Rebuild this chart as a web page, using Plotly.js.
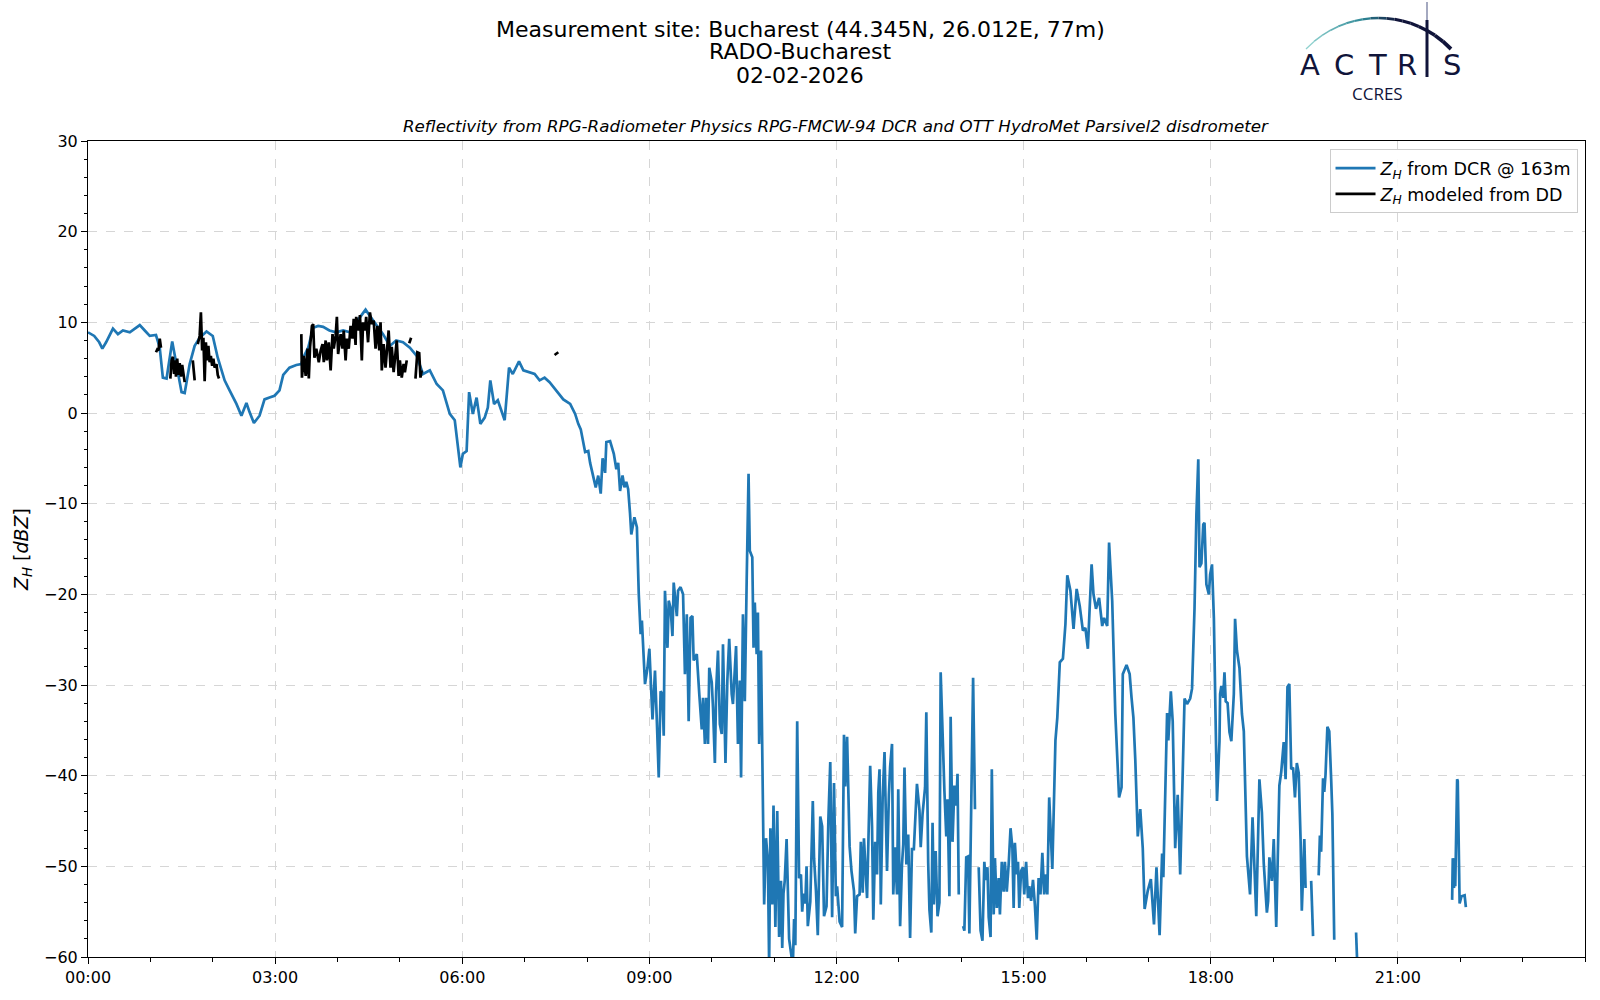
<!DOCTYPE html>
<html>
<head>
<meta charset="utf-8">
<script src="https://cdn.plot.ly/plotly-3.0.1.min.js"></script>
<style>html,body{margin:0;padding:0;background:#fff;}#chart{width:1600px;height:1000px;}</style>
</head>
<body>
<div id="chart"></div>
<script>
// ---- DATA: time in decimal hours (UTC), reflectivity in dBZ ----
const dcrHours = [
0.00,0.10,0.18,0.23,0.29,0.40,0.48,0.56,0.67,0.75,0.83,0.91,0.99,1.09,1.15,1.20,1.26,1.35,1.41,1.50,1.55,1.63,1.71,1.79,1.90,2.00,2.08,2.19,2.27,2.38,2.46,2.54,2.59,2.66,2.75,2.83,2.91,2.99,3.07,3.13,3.23,3.34,3.42,3.45,3.53,3.61,3.69,3.77,3.87,3.98,4.09,4.20,4.30,4.38,4.45,4.52,4.62,4.73,4.84,4.94,5.05,5.16,5.27,5.37,5.48,5.59,5.69,5.80,5.88,5.93,5.97,6.01,6.07,6.11,6.17,6.23,6.29,6.36,6.41,6.45,6.51,6.57,6.63,6.68,6.72,6.75,6.81,6.91,6.98,7.06,7.16,7.24,7.32,7.40,7.51,7.62,7.73,7.81,7.86,7.90,7.97,8.02,8.05,8.10,8.14,8.18,8.22,8.25,8.29,8.31,8.37,8.43,8.47,8.50,8.53,8.57,8.60,8.63,8.66,8.69,8.71,8.76,8.80,8.83,8.86,8.88,8.93,8.97,9.00,9.05,9.09,9.12,9.15,9.18,9.21,9.23,9.25,9.29,9.31,9.34,9.37,9.39,9.44,9.46,9.50,9.54,9.57,9.60,9.63,9.66,9.69,9.71,9.76,9.80,9.84,9.86,9.89,9.91,9.94,9.96,10.00,10.02,10.05,10.07,10.10,10.13,10.16,10.18,10.22,10.25,10.28,10.32,10.34,10.39,10.42,10.45,10.47,10.50,10.53,10.56,10.59,10.61,10.65,10.67,10.69,10.72,10.74,10.76,10.79,10.84,10.87,10.90,10.92,10.94,10.97,10.99,11.02,11.05,11.08,11.11,11.13,11.15,11.17,11.20,11.24,11.30,11.32,11.34,11.37,11.40,11.43,11.45,11.47,11.50,11.52,11.54,11.58,11.62,11.64,11.67,11.70,11.74,11.77,11.80,11.84,11.87,11.90,11.93,11.96,11.99,12.01,12.05,12.09,12.12,12.14,12.17,12.21,12.24,12.28,12.30,12.33,12.37,12.39,12.42,12.44,12.49,12.51,12.54,12.57,12.59,12.62,12.65,12.67,12.69,12.71,12.74,12.77,12.81,12.84,12.86,12.89,12.91,12.94,12.97,12.99,13.02,13.05,13.07,13.09,13.12,13.15,13.18,13.21,13.24,13.29,13.33,13.35,13.38,13.42,13.44,13.47,13.49,13.52,13.54,13.56,13.59,13.62,13.65,13.67,13.70,13.73,13.76,13.78,13.81,13.83,13.86,13.89,13.92,13.94,13.96,13.99,
14.03,14.05,14.08,14.11,14.13,14.15,14.19,14.22,14.25,
14.28,14.29,14.31,14.34,14.37,14.39,14.42,14.44,14.47,14.49,14.52,14.54,14.57,14.60,14.62,14.65,14.68,14.70,14.73,14.76,14.79,14.82,14.84,14.86,14.89,14.91,14.93,14.96,14.99,15.01,15.04,15.07,15.09,15.12,15.15,15.18,15.21,15.24,15.27,15.30,15.33,15.36,15.38,15.41,15.44,15.46,15.51,15.54,15.58,15.63,15.67,15.70,15.75,15.80,15.85,15.90,15.95,15.99,16.03,16.09,16.12,16.16,16.21,16.26,16.29,16.34,16.37,16.42,16.47,16.53,16.57,16.59,16.65,16.70,16.73,16.76,16.79,16.83,16.87,16.91,16.94,16.99,17.04,17.09,17.13,17.18,17.22,17.24,17.30,17.32,17.36,17.39,17.43,17.47,17.51,17.55,17.58,17.62,17.67,17.70,17.74,17.77,17.80,17.82,17.85,17.88,17.90,17.93,17.97,17.99,18.02,18.05,18.07,18.10,18.14,18.15,18.17,18.20,18.22,18.24,18.27,18.30,18.33,18.37,18.39,18.42,18.46,18.50,18.53,18.58,18.63,18.67,18.73,18.75,18.78,18.82,18.85,18.90,18.92,18.94,18.98,19.01,19.05,19.10,19.13,19.17,19.20,19.23,19.26,19.29,19.32,19.35,19.38,19.41,19.44,19.46,19.50,19.52,19.56,
19.61,19.64,19.68,
19.73,19.75,19.77,19.80,19.82,19.84,19.87,19.90,19.93,19.95,19.98,20.10,
20.33,20.35,21.00,
21.87,21.88,21.90,21.91,21.92,21.95,21.96,21.99,22.02,22.07,22.09
];
const dcrZh = [
8.9,8.5,7.8,7.1,7.8,9.3,8.7,9.1,8.9,9.3,9.7,9.1,8.5,8.6,7.2,3.9,3.8,7.9,5.6,2.3,2.2,5.4,7.4,8.3,9.0,8.5,6.1,3.6,2.5,1.0,-0.3,1.1,0.1,-1.1,-0.3,1.5,1.7,1.9,2.5,4.2,5.0,5.3,5.4,6.1,7.2,9.4,9.6,9.5,9.1,8.9,9.1,8.9,10.0,10.7,11.4,10.7,9.8,8.7,7.4,8.0,7.8,7.2,6.3,4.3,4.7,3.2,2.5,-0.1,-0.8,-3.8,-6.0,-4.5,-4.2,2.3,-0.1,1.7,-1.2,-0.5,0.6,3.6,1.0,1.4,0.1,-0.8,2.5,5.0,4.3,5.7,4.7,4.5,4.3,3.6,3.9,3.4,2.5,1.5,1.0,-0.1,-1.2,-1.8,-4.3,-4.2,-5.5,-7.1,-8.2,-6.9,-8.9,-5.0,-6.6,-3.2,-3.1,-4.5,-6.2,-5.5,-8.6,-6.9,-8.2,-7.6,-8.4,-11.1,-13.4,-11.5,-12.6,-20.0,-24.4,-22.9,-29.9,-28.1,-26.0,-33.8,-28.4,-34.0,-40.2,-30.7,-31.0,-35.6,-19.6,-25.9,-20.7,-21.5,-24.6,-18.7,-22.4,-19.6,-19.2,-20.0,-28.8,-22.2,-34.0,-22.6,-22.4,-27.3,-26.6,-31.0,-34.9,-31.4,-36.5,-31.4,-36.5,-28.1,-29.7,-32.5,-38.6,-30.7,-26.2,-34.3,-35.4,-25.5,-38.6,-29.5,-24.9,-31.0,-32.1,-25.7,-36.5,-29.5,-40.2,-22.2,-31.8,-18.5,-6.7,-15.2,-15.9,-25.9,-20.9,-26.6,-22.0,-36.5,-26.2,-54.2,-46.9,-49.4,-61,-45.8,-54.2,-43.3,-56.7,-43.9,-57.8,-51.6,-59,-53.0,-51.6,-47.0,-58,-61,-55.8,-58.7,-34.0,-51.3,-50.9,-55.0,-53.0,-54.1,-50.0,-56.6,-53.9,-42.8,-49.1,-52.6,-57.6,-44.5,-45.6,-55.5,-54.4,-44.8,-38.5,-55.6,-40.8,-53.3,-52.2,-56.1,-56.7,-35.5,-41.2,-35.7,-47.8,-50.5,-52.7,-57.4,-53.3,-53.1,-47.3,-52.9,-46.9,-53.5,-47.2,-38.9,-45.6,-55.9,-47.3,-50.9,-41.9,-39.3,-54.2,-42.4,-37.4,-50.5,-42.1,-39.0,-36.5,-53.1,-47.9,-53.1,-41.5,-56.6,-49.8,-47.6,-39.1,-49.8,-46.5,-57.9,-48.1,-48.1,-40.9,-43.8,-47.9,-44.2,-41.3,-33.0,-49.6,-54.8,-57.3,-45.2,-54.2,-48.3,-55.5,-54.0,-28.6,-36.0,-41.7,-46.7,-42.6,-53.3,-33.5,-47.3,-41.1,-43.3,-39.8,-53.1,null,
-56.6,-57.1,-49.0,-48.9,-57.4,-46.6,-29.2,-43.7,null,
-50.1,-54.0,-57.1,-58.2,-49.5,-51.5,-50.1,-55.6,-57.8,-39.3,-55.3,-49.1,-54.6,-51.3,-55.3,-49.5,-52.8,-49.5,-52.8,-49.8,-45.8,-48.0,-54.6,-47.4,-50.9,-49.5,-54.6,-50.5,-50.1,-53.1,-49.5,-53.5,-52.2,-53.8,-51.5,-54.2,-58.1,-51.3,-53.1,-48.5,-53.1,-50.9,-53.1,-42.4,-47.2,-50.3,-36.1,-33.6,-27.5,-27.1,-23.3,-17.9,-19.6,-23.8,-19.4,-21.3,-24.0,-23.7,-26.0,-16.7,-20.0,-21.6,-20.4,-23.5,-22.6,-23.5,-14.3,-20.7,-33.2,-42.4,-41.3,-28.8,-27.8,-28.8,-31.4,-33.6,-38.2,-46.7,-43.7,-48.0,-54.7,-52.7,-51.4,-56.4,-50.1,-57.6,-48.6,-51.2,-33.1,-36.1,-30.7,-34.0,-48.0,-42.1,-50.9,-39.8,-31.5,-32.1,-31.5,-30.4,-21.5,-11.2,-5.1,-17.0,-16.6,-12.3,-12.1,-18.9,-20.0,-17.8,-16.7,-22.6,-32.5,-42.8,-36.2,-31.0,-30.1,-31.4,-28.6,-31.8,-32.0,-35.2,-36.2,-31.0,-22.7,-26.2,-28.1,-33.2,-35.1,-48.9,-53.1,-44.6,-55.5,-50.0,-40.4,-44.1,-49.7,-55.1,-53.8,-49.0,-51.6,-47.0,-56.7,-41.1,-39.6,-36.3,-40.4,-30.2,-29.9,-39.3,-39.1,-42.4,-38.6,-39.7,-47.0,-54.9,-47.0,-52.4,null,
-51.6,-57.7,null,
-51.0,-46.6,-48.4,-40.3,-41.8,-39.9,-34.6,-35.1,-40.3,-44.3,-58.1,null,
-57.3,-61,null,
-53.7,-49.1,-52.4,-49.1,-52.2,-40.4,-40.6,-54.1,-53.3,-53.2,-54.5
];
const ddHours = [
1.09,1.11,1.13,1.15,1.17,1.25,
1.32,1.34,1.36,1.38,1.40,1.41,1.43,1.45,1.47,1.49,1.51,1.53,1.55,1.62,
1.68,1.71,1.74,
1.76,1.79,1.81,1.83,1.85,1.87,1.89,1.91,1.93,1.95,1.97,1.99,2.01,2.03,2.06,2.08,2.10,2.50,
3.42,3.43,3.46,3.49,3.52,3.54,3.56,3.59,3.61,3.63,3.66,3.70,3.73,3.76,3.78,3.81,3.83,3.86,3.89,3.92,3.94,3.97,3.99,4.01,4.05,4.08,4.10,4.13,4.15,4.18,4.21,4.24,4.26,4.29,4.30,4.34,4.36,4.39,4.41,4.44,4.46,4.49,4.52,4.55,4.58,4.61,4.64,4.67,4.69,4.71,4.74,4.77,4.79,4.82,4.85,4.87,4.90,4.92,4.95,4.98,5.00,5.03,5.06,5.08,5.11,5.13,
5.15,5.18,5.21,
5.25,5.28,5.31,5.33,5.35,6.00,
7.48,7.54
];
const ddZh = [
6.7,7.0,6.9,8.2,7.2,null,
3.8,5.8,6.2,4.3,5.8,4.0,6.0,4.2,5.5,4.0,5.3,4.5,3.4,null,
5.8,3.6,null,
7.6,8.5,11.1,6.9,8.3,3.5,7.8,5.8,7.4,5.6,6.3,5.2,6.0,5.0,5.4,4.2,3.8,null,
8.7,3.9,6.3,4.1,7.1,3.8,7.3,9.6,9.8,6.1,7.1,5.6,6.9,7.6,5.6,8.0,5.8,7.8,4.7,8.7,7.1,8.5,10.6,6.5,8.7,7.1,9.1,5.8,8.2,7.1,9.6,8.2,10.4,7.5,10.6,9.1,10.8,5.8,10.0,9.1,10.6,7.8,11.1,9.8,10.2,7.1,9.6,6.9,10.0,4.7,7.6,5.0,6.7,9.1,5.0,7.3,4.5,6.3,8.0,4.1,5.8,3.9,5.4,4.5,5.8,null,
7.7,8.3,null,
3.8,6.7,6.6,3.9,4.7,null,
6.4,6.7
];
const xTickVals = [0,3,6,9,12,15,18,21];
const xTickLabels = ['00:00','03:00','06:00','09:00','12:00','15:00','18:00','21:00'];
const yTickVals = [-60,-50,-40,-30,-20,-10,0,10,20,30];

// ---- layout helpers (page pixels -> paper coordinates) ----
const ML=88, MR=15, MT=141, MB=43, FW=1600, FH=1000;
const PW=FW-ML-MR, PH=FH-MT-MB;
const px = x => (x-ML)/PW;
const py = y => (FH-MB-y)/PH;

const ann = [];
const shp = [];
const F = 'DejaVu Sans, sans-serif';
function txt(s, x, y, size, opts){
  ann.push(Object.assign({text:s, xref:'paper', yref:'paper', x:px(x), y:py(y),
    xanchor:'center', yanchor:'middle', showarrow:false,
    font:{family:F, size:size, color:'#000'}}, opts||{}));
}
txt('Measurement site: Bucharest (44.345N, 26.012E, 77m)', 800, 29, 22);
txt('RADO-Bucharest', 800, 52, 22);
txt('02-02-2026', 800, 75, 22);
txt('<i>Reflectivity from RPG-Radiometer Physics RPG-FMCW-94 DCR and OTT HydroMet Parsivel2 disdrometer</i>', 836, 126, 16.7);

// ACTRIS logo
const navy = '#10143a';
const letters = [['A',1310],['C',1344],['T',1377],['R',1407],['S',1452]];
letters.forEach(l => txt(l[0], l[1], 65, 29, {font:{family:'DejaVu Sans', size:29, color:navy}}));
txt('CCRES', 1377, 94, 17, {font:{family:'Open Sans, DejaVu Sans', size:17, color:navy}});
// vertical "I" stroke
shp.push({type:'line', xref:'paper', yref:'paper', x0:px(1427), x1:px(1427), y0:py(2), y1:py(20), line:{color:'#a4a9c0', width:2}});
shp.push({type:'line', xref:'paper', yref:'paper', x0:px(1427), x1:px(1427), y0:py(20), y1:py(77), line:{color:navy, width:3}});
// arc with colour gradient
(function(){
  const cx=1378.5, cy=118.3, R=100.3, x0=1306, x1=1451, N=18;
  const c0=[150,215,210], c1=[45,135,150], c2=[16,20,58];
  function col(t){
    let a,b,u;
    if(t<0.4){a=c0;b=c1;u=t/0.4;} else if(t<0.62){a=c1;b=c2;u=(t-0.4)/0.22;} else {a=c2;b=c2;u=0;}
    return 'rgb('+a.map((v,i)=>Math.round(v+(b[i]-v)*u)).join(',')+')';
  }
  for(let i=0;i<N;i++){
    const xa=x0+(x1-x0)*i/N, xb=x0+(x1-x0)*(i+1)/N;
    const ya=cy-Math.sqrt(R*R-(xa-cx)*(xa-cx)), yb=cy-Math.sqrt(R*R-(xb-cx)*(xb-cx));
    shp.push({type:'line', xref:'paper', yref:'paper', x0:px(xa), y0:py(ya), x1:px(xb), y1:py(yb),
      line:{color:col((i+0.5)/N), width:1.3+2.7*(i/N)}});
  }
})();

const traces = [
  {x:dcrHours, y:dcrZh, type:'scatter', mode:'lines', connectgaps:false,
   name:'<i>Z</i><sub><i>H</i></sub> from DCR @ 163m',
   line:{color:'#1f77b4', width:2.7}},
  {x:ddHours, y:ddZh, type:'scatter', mode:'lines', connectgaps:false,
   name:'<i>Z</i><sub><i>H</i></sub> modeled from DD',
   line:{color:'#000000', width:2.7}}
];

const axisCommon = {
  showline:true, mirror:true, linecolor:'#000', linewidth:1,
  ticks:'outside', ticklen:6, tickwidth:1, tickcolor:'#000',
  showgrid:true, gridcolor:'#d6d6d6', griddash:'dash', gridwidth:1,
  zeroline:false, tickfont:{family:F, size:16, color:'#000'}
};
const layout = {
  width:FW, height:FH,
  margin:{l:ML, r:MR, t:MT, b:MB, pad:0},
  paper_bgcolor:'#fff', plot_bgcolor:'#fff',
  showlegend:true,
  font:{family:F, color:'#000'},
  xaxis:Object.assign({}, axisCommon, {
    range:[0,24], tickmode:'array', tickvals:xTickVals, ticktext:xTickLabels,
    minor:{tickmode:'linear', tick0:0, dtick:1, ticks:'outside', ticklen:3.5, tickcolor:'#000', showgrid:false}
  }),
  yaxis:Object.assign({}, axisCommon, {
    range:[-60,30], tickmode:'array', tickvals:yTickVals,
    minor:{tickmode:'linear', tick0:0, dtick:2, ticks:'outside', ticklen:3.5, tickcolor:'#000', showgrid:false},
    title:{text:'<i>Z</i><sub><i>H</i></sub> [<i>dBZ</i>]', font:{family:F, size:19, color:'#000'}, standoff:10}
  }),
  legend:{x:0.995, xanchor:'right', y:0.99, yanchor:'top',
    bgcolor:'rgba(255,255,255,0.85)', bordercolor:'#cccccc', borderwidth:1,
    font:{family:F, size:17.5, color:'#000'}, itemwidth:40},
  annotations:ann,
  shapes:shp
};
Plotly.newPlot('chart', traces, layout, {staticPlot:true, displayModeBar:false});
</script>
</body>
</html>
